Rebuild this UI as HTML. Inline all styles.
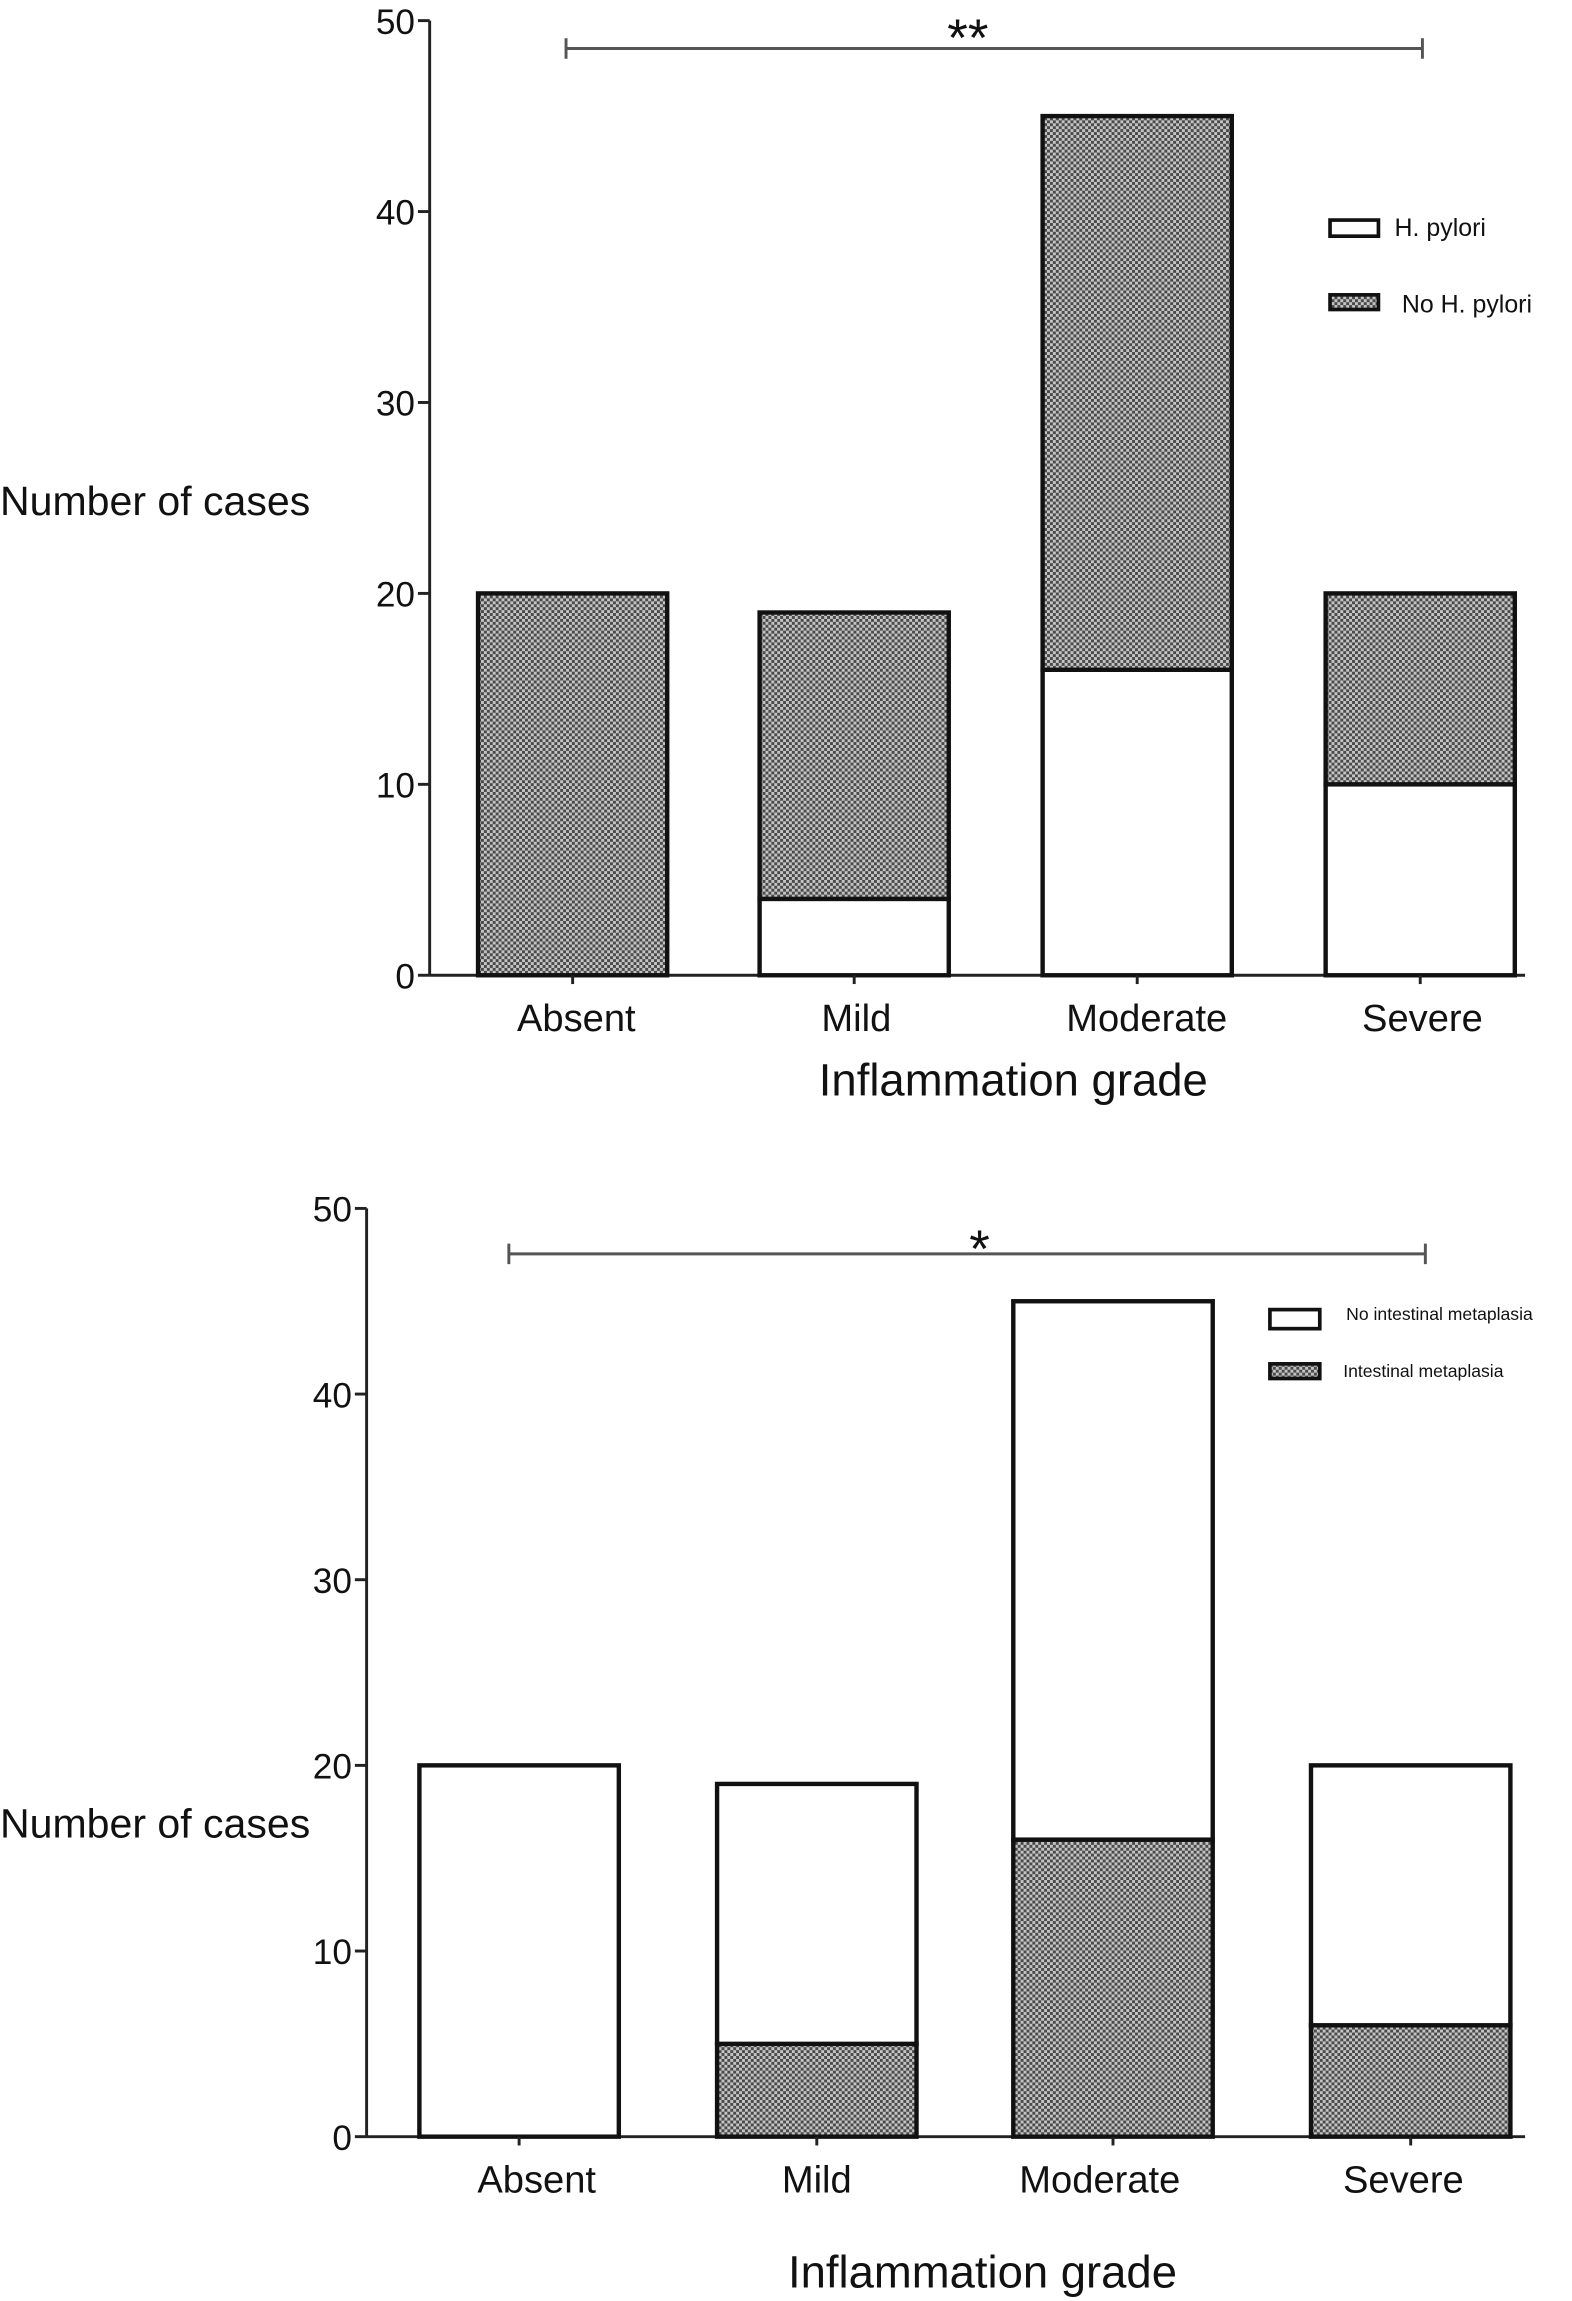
<!DOCTYPE html>
<html><head><meta charset="utf-8"><style>
html,body{margin:0;padding:0;background:#fff;}
svg{display:block;font-family:"Liberation Sans",sans-serif;}
</style></head><body>
<svg id="s" width="1572" height="2301" viewBox="0 0 1072 1569" xmlns="http://www.w3.org/2000/svg">
<defs>
<pattern id="chk" width="4" height="4" patternUnits="userSpaceOnUse">
<rect width="4" height="4" fill="#c4c4c4"/>
<rect width="2" height="2" fill="#4a4a4a"/>
<rect x="2" y="2" width="2" height="2" fill="#4a4a4a"/>
</pattern>
</defs>
</svg>
<script>
const categories=["Absent","Mild","Moderate","Severe"];
const ticks=[0,10,20,30,40,50];
const topHp=[0,4,16,10];
const topNoHp=[20,15,29,10];
const botIM=[0,5,16,6];
const botNoIM=[20,14,29,14];
const NS="http://www.w3.org/2000/svg";
const svg=document.getElementById('s');
function mk(tag,attrs,parent){const e=document.createElementNS(NS,tag);for(const k in attrs)e.setAttribute(k,attrs[k]);(parent||svg).appendChild(e);return e;}
function txt(x,y,s,size,anchor,name){const t=mk('text',{x:x,y:y,'font-size':size,'text-anchor':anchor||'middle',fill:'#111'});t.textContent=s;


return t;}
function chart(cfg){
  const g=mk('g',{});
  
  
  const y=v=>cfg.y0-(cfg.y0-cfg.y50)*v/50;
  const ax=mk('line',{x1:cfg.ax,y1:cfg.y50,x2:cfg.ax,y2:cfg.y0,stroke:'#222','stroke-width':2},g);
  
  
  const xa=mk('line',{x1:cfg.ax,y1:cfg.y0,x2:1040,y2:cfg.y0,stroke:'#222','stroke-width':2},g);
  
  
  ticks.forEach(t=>{
    mk('line',{x1:cfg.ax-8,y1:y(t),x2:cfg.ax,y2:y(t),stroke:'#222','stroke-width':2},g);
    txt(cfg.ax-10,y(t)+9,String(t),24,'end','y-tick-label');
  });
  categories.forEach((c,i)=>{
    const bx=cfg.bx[i], w=cfg.bw;
    const lo=cfg.lower[i], hi=cfg.upper[i];
    const r1=mk('rect',{x:bx,y:y(lo),width:w,height:y(0)-y(lo),fill:cfg.lowerFill,stroke:'#111','stroke-width':3},g);
    
    
    const r2=mk('rect',{x:bx,y:y(lo+hi),width:w,height:y(lo)-y(lo+hi),fill:cfg.upperFill,stroke:'#111','stroke-width':3},g);
    
    
    mk('line',{x1:bx+w/2,y1:cfg.y0,x2:bx+w/2,y2:cfg.y0+6,stroke:'#222','stroke-width':2},g);
    txt(cfg.lblX[i],cfg.y0+38,c,26,'middle','x-tick-label');
  });
  txt(cfg.titleX,cfg.titleY,'Inflammation grade',31,'middle','x-axis-title');
  txt(0,cfg.ylabY,'Number of cases',28,'start','y-axis-title');
  const sb=cfg.sig;
  mk('line',{x1:sb[0],y1:sb[2],x2:sb[1],y2:sb[2],stroke:'#555','stroke-width':2},g);
  mk('line',{x1:sb[0],y1:sb[2]-7,x2:sb[0],y2:sb[2]+7,stroke:'#555','stroke-width':2},g);
  mk('line',{x1:sb[1],y1:sb[2]-7,x2:sb[1],y2:sb[2]+7,stroke:'#555','stroke-width':2},g);
  txt(cfg.starX,sb[2]+cfg.starDy,cfg.star,36,'middle','significance-marker');
}
chart({name:'chart-h-pylori',ax:293,y0:665,y50:14,bx:[326,518,711,904],bw:129,lower:topHp,upper:topNoHp,
  lowerFill:'#fff',upperFill:'url(#chk)',lblX:[393,584,782,970],titleX:691,titleY:747,ylabY:351,sig:[386,970,33],star:'**',starX:660,starDy:5});
chart({name:'chart-metaplasia',ax:250,y0:1457,y50:824,bx:[286,489,691,894],bw:136,lower:botIM,upper:botNoIM,
  lowerFill:'url(#chk)',upperFill:'#fff',lblX:[366,557,750,957],titleX:670,titleY:1560,ylabY:1253,sig:[347,972,855],star:'*',starX:668,starDy:9});
function legBox(x,y,w,h,fill,name){const r=mk('rect',{x:x,y:y,width:w,height:h,fill:fill,stroke:'#111','stroke-width':2.5});

}
legBox(907,150,33,11,'#fff','legend-swatch-h-pylori');
txt(951,161,'H. pylori',17,'start','legend-label-h-pylori');
legBox(907,201,33,10,'url(#chk)','legend-swatch-no-h-pylori');
txt(956,213,'No H. pylori',17,'start','legend-label-no-h-pylori');
legBox(866,893,34,13,'#fff','legend-swatch-no-metaplasia');
txt(918,900,'No intestinal metaplasia',12,'start','legend-label-no-metaplasia');
legBox(866,930,34,10,'url(#chk)','legend-swatch-metaplasia');
txt(916,939,'Intestinal metaplasia',12,'start','legend-label-metaplasia');
</script>
</body></html>
